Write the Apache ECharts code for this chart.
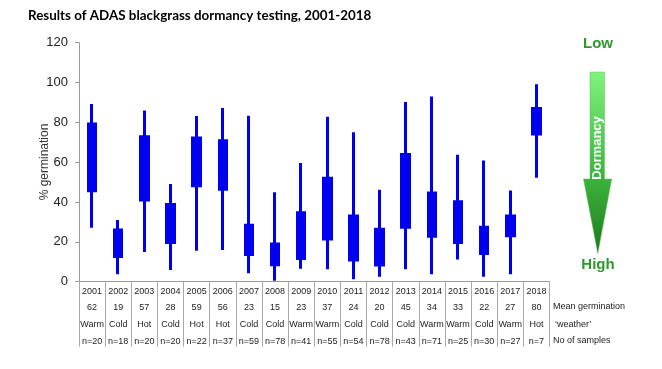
<!DOCTYPE html>
<html>
<head>
<meta charset="utf-8">
<script src="https://cdn.jsdelivr.net/npm/echarts@6/dist/echarts.min.js"></script>
<style>html,body{margin:0;padding:0;background:#fff}#c{width:662px;height:369px}</style>
</head>
<body>
<div id="c"></div>
<script>
var years = ['2001','2002','2003','2004','2005','2006','2007','2008','2009','2010','2011','2012','2013','2014','2015','2016','2017','2018'];
var meanGermination = [62,19,57,28,59,56,23,15,23,37,24,20,45,34,33,22,27,80];
var weather = ['Warm','Cold','Hot','Cold','Hot','Hot','Cold','Cold','Warm','Warm','Cold','Cold','Cold','Warm','Warm','Cold','Warm','Hot'];
var samples = [20,18,20,20,22,37,59,78,41,55,54,78,43,71,25,30,27,7];
// box ranges and whiskers (% germination)
var boxTop    = [79.2,25.9,72.8,38.7,72.1,70.8,28.3,18.9,34.6,51.9,33.0,26.3,63.9,44.5,40.2,27.3,33.0,87.0];
var boxBottom = [45.7,12.6,41.0,19.7,48.2,46.4,13.6, 8.5,11.7,21.4,10.9, 8.4,27.3,22.8,19.7,14.1,23.1,74.1];
var maxVal    = [89.2,31.0,86.0,49.0,83.2,87.2,83.3,44.9,59.6,82.8,75.0,46.2,90.2,93.0,63.8,60.9,45.8,99.1];
var minVal    = [27.1, 3.8,14.9, 5.9,15.6,15.9, 4.2, 0.5, 6.5, 6.2, 1.2, 2.5, 6.2, 3.7,11.2, 2.5, 3.8,52.2];
var yTicks = [0,20,40,60,80,100,120];

var candle = years.map(function(y,i){ return [boxBottom[i], boxTop[i], minVal[i], maxVal[i]]; });
var blue = '#0000f0';
var chart = echarts.init(document.getElementById('c'));
chart.setOption({
  animation:false,
  title:{text:'Results of ADAS blackgrass dormancy testing, 2001-2018', left:23, top:4,
    textStyle:{fontFamily:'Lato', fontWeight:'bold', fontSize:13.4, color:'#000'}},
  grid:{left:79, right:112.5, top:42.7, bottom:87.3},
  xAxis:{type:'category', data:years, boundaryGap:true,
    axisLine:{lineStyle:{color:'#999', width:1}},
    axisTick:{show:true, interval:0, length:65, lineStyle:{color:'#aaa'}},
    axisLabel:{interval:0, margin:1, lineHeight:16.7, fontFamily:'Liberation Sans', fontSize:9, color:'#222',
      formatter:function(v, idx){ return v+'\n'+meanGermination[idx]+'\n'+weather[idx]+'\nn='+samples[idx]; }}
  },
  yAxis:{type:'value', min:yTicks[0], max:yTicks[yTicks.length-1], interval:20,
    axisLine:{show:true, lineStyle:{color:'#999'}},
    axisTick:{show:true, length:4, lineStyle:{color:'#999'}},
    splitLine:{show:false},
    axisLabel:{fontFamily:'Liberation Sans', fontSize:13, color:'#222', margin:11}
  },
  series:[{type:'candlestick', data:candle, barWidth:8,
    itemStyle:{color:blue, color0:blue, borderColor:blue, borderColor0:blue, borderWidth:3}}],
  graphic:[
    {type:'text', x:45, y:162, rotation:Math.PI/2, style:{text:'% germination', font:'12px "Liberation Sans"', fill:'#333', align:'center', verticalAlign:'middle'}},
    {type:'text', left:553, top:302, style:{text:'Mean germination', font:'9px "Liberation Sans"', fill:'#222'}},
    {type:'text', left:555, top:320, style:{text:'\u2018weather\u2019', font:'9px "Liberation Sans"', fill:'#222'}},
    {type:'text', left:553, top:336, style:{text:'No of samples', font:'9px "Liberation Sans"', fill:'#222'}},
    {type:'text', x:598, y:44, style:{text:'Low', font:'bold 15px "Liberation Sans"', fill:'#2c9a2c', align:'center', verticalAlign:'middle'}},
    {type:'text', x:598, y:265, style:{text:'High', font:'bold 15px "Liberation Sans"', fill:'#2c9a2c', align:'center', verticalAlign:'middle'}},
    {type:'polygon', shape:{points:[[590,72],[604.5,72],[604.5,179],[611.7,179],[597.8,253.5],[583.5,179],[590,179]]},
      style:{fill:new echarts.graphic.LinearGradient(0,0,0,1,[{offset:0,color:'#7ff27f'},{offset:0.55,color:'#3fb83f'},{offset:1,color:'#1d7a1d'}]),
        stroke:'#5cc25c', lineWidth:0.5}},
    {type:'text', x:597.5, y:148, rotation:Math.PI/2, style:{text:'Dormancy', font:'bold 13px "Liberation Sans"', fill:'#fff', align:'center', verticalAlign:'middle'}}
  ]
});
</script>
</body>
</html>
